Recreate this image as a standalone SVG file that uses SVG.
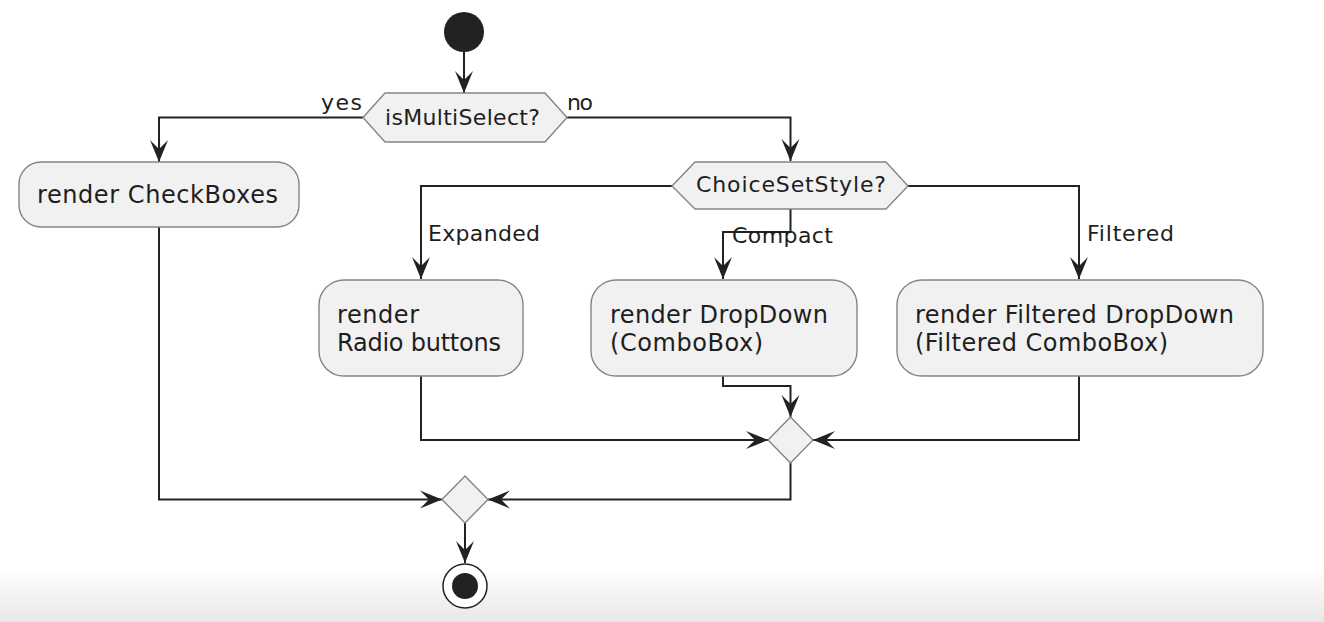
<svg xmlns="http://www.w3.org/2000/svg" width="1324" height="622" viewBox="0 0 1324 622">
<style>
.node{fill:#F1F1F1;stroke:#858585;stroke-width:1.4}
.lbl{font-family:"DejaVu Sans",Verdana,sans-serif;font-size:22px;fill:#1e1e1e}
.txt{font-family:"DejaVu Sans",Verdana,sans-serif;font-size:24px;fill:#1e1e1e}
.edge{fill:none;stroke:#222;stroke-width:2;marker-end:url(#arr)}
</style>
<defs>
<marker id="arr" markerUnits="userSpaceOnUse" viewBox="-23 -10 24 20" refX="0" refY="0" markerWidth="24" markerHeight="20" orient="auto">
<path d="M0,0 L-22,-9 L-13,0 L-22,9 Z" fill="#222"/>
</marker>
<linearGradient id="shade" x1="0" y1="0" x2="0" y2="1">
<stop offset="0" stop-color="#ffffff"/>
<stop offset="1" stop-color="#e8e8e8"/>
</linearGradient>
</defs>
<rect x="0" y="0" width="1324" height="622" fill="#ffffff"/>
<rect x="0" y="568" width="1324" height="54" fill="url(#shade)"/>

<g id="connectors">
<path class="edge" d="M464,52 V93"/>
<path class="edge" d="M363,117.5 H159 V162"/>
<path class="edge" d="M567,117.5 H790.5 V161"/>
<path class="edge" d="M672,186 H421 V279"/>
<path class="edge" d="M790.5,209 V232 H723 V279"/>
<path class="edge" d="M908,186 H1079 V279"/>
<path class="edge" d="M421,376 V440 H768"/>
<path class="edge" d="M723,376 V386 H790.5 V417"/>
<path class="edge" d="M1079,376 V440 H813"/>
<path class="edge" d="M790.5,463 V499.5 H488"/>
<path class="edge" d="M159,227 V499.5 H442"/>
<path class="edge" d="M465,523 V563"/>
<text class="lbl" x="321" y="110" textLength="41">yes</text>
<text class="lbl" x="567" y="110" textLength="26">no</text>
<text class="lbl" x="428" y="241" textLength="112">Expanded</text>
<text class="lbl" x="732" y="243" textLength="101">Compact</text>
<text class="lbl" x="1087" y="241" textLength="87">Filtered</text>
</g>

<g id="start">
<circle cx="464" cy="32" r="20" fill="#222"/>
</g>

<g id="isMultiSelect">
<polygon class="node" points="363,117.5 385,93 545,93 567,117.5 545,142 385,142"/>
<text class="lbl" x="385" y="125" textLength="155">isMultiSelect?</text>
</g>

<g id="checkboxes">
<rect class="node" x="19" y="162" width="280" height="65" rx="22" ry="22"/>
<text class="txt" x="37" y="203" textLength="241">render CheckBoxes</text>
</g>

<g id="choiceSetStyle">
<polygon class="node" points="672,186 695,162 886,162 908,186 886,209 695,209"/>
<text class="lbl" x="696" y="192" textLength="190">ChoiceSetStyle?</text>
</g>

<g id="radio">
<rect class="node" x="319" y="280" width="204" height="96" rx="25" ry="25"/>
<text class="txt" x="337" y="323" textLength="82">render</text>
<text class="txt" x="337" y="351" textLength="164">Radio buttons</text>
</g>

<g id="dropdown">
<rect class="node" x="591" y="280" width="266" height="96" rx="25" ry="25"/>
<text class="txt" x="610" y="323" textLength="218">render DropDown</text>
<text class="txt" x="610" y="351" textLength="153">(ComboBox)</text>
</g>

<g id="filtered">
<rect class="node" x="897" y="280" width="366" height="96" rx="25" ry="25"/>
<text class="txt" x="915" y="323" textLength="319">render Filtered DropDown</text>
<text class="txt" x="915" y="351" textLength="253">(Filtered ComboBox)</text>
</g>

<g id="merge1">
<polygon class="node" points="790.5,417 813,440 790.5,463 768,440"/>
</g>

<g id="merge2">
<polygon class="node" points="465,476 488,499.5 465,523 442,499.5"/>
</g>

<g id="end">
<circle cx="465" cy="586" r="22" fill="#ffffff" stroke="#222" stroke-width="1.5"/>
<circle cx="465" cy="586" r="13" fill="#222"/>
</g>
</svg>
